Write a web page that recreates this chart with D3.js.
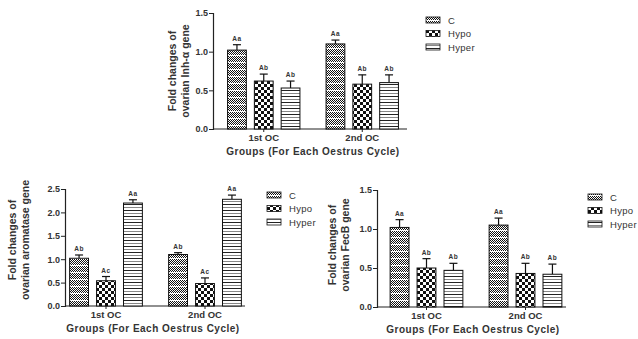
<!DOCTYPE html>
<html><head><meta charset="utf-8">
<script src="https://cdn.jsdelivr.net/npm/d3@7"></script>
<style>body{margin:0;background:#fff;} svg{display:block;font-family:"Liberation Sans",Arial,sans-serif;}</style>
</head><body>
<script>
const groups = ["1st OC", "2nd OC"];
const seriesNames = ["C", "Hypo", "Hyper"];
const yTicksInh = [0, 0.5, 1.0, 1.5];
const yTicksAro = [0, 0.5, 1.0, 1.5, 2.0, 2.5];
const yTicksFec = [0, 0.5, 1.0, 1.5];
// values [group][series]
const inhMean = [[1.02, 0.62, 0.53], [1.10, 0.58, 0.60]];
const inhErr  = [[0.07, 0.09, 0.09], [0.05, 0.12, 0.10]];
const inhSig  = [["Aa", "Ab", "Ab"], ["Aa", "Ab", "Ab"]];
const aroMean = [[1.02, 0.54, 2.20], [1.10, 0.48, 2.28]];
const aroErr  = [[0.07, 0.09, 0.07], [0.04, 0.12, 0.09]];
const aroSig  = [["Ab", "Ac", "Aa"], ["Ab", "Ac", "Aa"]];
const fecMean = [[1.02, 0.50, 0.47], [1.05, 0.43, 0.42]];
const fecErr  = [[0.10, 0.12, 0.09], [0.09, 0.13, 0.13]];
const fecSig  = [["Aa", "Ab", "Ab"], ["Aa", "Ab", "Ab"]];

const svg = d3.select("body").append("svg").attr("width", 638).attr("height", 339);
const defs = svg.append("defs");
let p = defs.append("pattern").attr("id","pC").attr("patternUnits","userSpaceOnUse").attr("width",4).attr("height",7);
p.append("rect").attr("width",4).attr("height",7).attr("fill","#fff");
for (let r=0;r<6;r++) for (let c=0;c<4;c++) if ((r+c)%2===0) p.append("rect").attr("x",c).attr("y",r).attr("width",1).attr("height",1).attr("fill","#111");
p = defs.append("pattern").attr("id","pHypo").attr("patternUnits","userSpaceOnUse").attr("width",6).attr("height",6);
p.append("rect").attr("width",6).attr("height",6).attr("fill","#fff");
p.append("rect").attr("width",3).attr("height",3).attr("fill","#111");
p.append("rect").attr("x",3).attr("y",3).attr("width",3).attr("height",3).attr("fill","#111");
p = defs.append("pattern").attr("id","pHyper").attr("patternUnits","userSpaceOnUse").attr("width",4).attr("height",6);
p.append("rect").attr("width",4).attr("height",6).attr("fill","#fff");
p.append("rect").attr("y",0).attr("width",4).attr("height",1).attr("fill","#222");
p.append("rect").attr("y",3).attr("width",4).attr("height",1).attr("fill","#888");
const fills = ["url(#pC)", "url(#pHypo)", "url(#pHyper)"];

function panel(cfg) {
  const g = svg.append("g");
  const y = d3.scaleLinear().domain([0, cfg.ymax]).range([cfg.y0, cfg.y1]);
  const xg = d3.scaleBand().domain(groups).range([cfg.c1 - 49.5, cfg.c2 + 49.5]).paddingInner(0.2).paddingOuter(0.1);
  const xs = d3.scaleBand().domain(seriesNames).range([0, xg.bandwidth()]).paddingInner(0.3).paddingOuter(0.12);
  const ya = g.append("g").attr("transform", `translate(${cfg.ax},0)`)
    .call(d3.axisLeft(y).tickValues(cfg.ticks).tickFormat(d3.format(".1f")).tickSizeOuter(0).tickSize(4));
  ya.select(".domain").attr("stroke","#222").attr("stroke-width",1.2);
  ya.selectAll(".tick line").attr("stroke","#222");
  ya.selectAll("text").attr("font-size",9).attr("font-weight","bold").attr("fill","#333").attr("x",-5);
  const xa = g.append("g").attr("transform", `translate(0,${cfg.y0})`);
  xa.append("line").attr("x1",cfg.ax).attr("x2",cfg.axEnd).attr("stroke","#222").attr("stroke-width",1.2);
  groups.forEach(gr => {
    const cx = xg(gr) + xg.bandwidth()/2;
    xa.append("line").attr("x1",cx).attr("x2",cx).attr("y1",0).attr("y2",3).attr("stroke","#222");
    xa.append("text").attr("x",cx).attr("y",12).attr("text-anchor","middle").attr("font-size",9.5).attr("font-weight","bold").attr("fill","#333").text(gr);
  });
  g.append("text").attr("x",cfg.titleX).attr("y",cfg.y0+26).attr("text-anchor","middle").attr("font-size",10).attr("font-weight","bold").attr("letter-spacing",0.5).attr("fill","#333").text("Groups (For Each Oestrus Cycle)");
  const yt = g.append("text").attr("transform",`translate(${cfg.ytX},${cfg.ytY}) rotate(-90)`).attr("text-anchor","middle").attr("font-size",10.5).attr("font-weight","bold").attr("fill","#333");
  yt.append("tspan").attr("x",0).attr("dy",0).text("Fold changes of");
  yt.append("tspan").attr("x",0).attr("dy",13).text(cfg.ylabel2);
  groups.forEach((gr, gi) => {
    seriesNames.forEach((s, si) => {
      const x0 = xg(gr) + xs(s), w = xs.bandwidth();
      const v = cfg.mean[gi][si], e = cfg.err[gi][si];
      const cx = x0 + w/2;
      g.append("line").attr("x1",cx).attr("x2",cx).attr("y1",y(v)).attr("y2",y(v+e)).attr("stroke","#111").attr("stroke-width",1.2);
      g.append("line").attr("x1",cx-4).attr("x2",cx+4).attr("y1",y(v+e)).attr("y2",y(v+e)).attr("stroke","#111").attr("stroke-width",1.2);
      g.append("rect").attr("x",x0).attr("y",y(v)).attr("width",w).attr("height",y(0)-y(v)).attr("fill",fills[si]).attr("stroke","#111").attr("stroke-width",1);
      g.append("text").attr("x",cx).attr("y",y(v+e)-4).attr("text-anchor","middle").attr("font-size",6.5).attr("font-weight","bold").attr("letter-spacing",0.5).attr("fill","#333").text(cfg.sig[gi][si]);
    });
  });
  seriesNames.forEach((s, si) => {
    const ly = cfg.legY + si*13.5;
    g.append("rect").attr("x",cfg.legX).attr("y",ly-3).attr("width",14).attr("height",6).attr("fill",fills[si]).attr("stroke","#111").attr("stroke-width",0.8);
    g.append("text").attr("x",cfg.legX+22).attr("y",ly+3.5).attr("font-size",9.5).attr("letter-spacing",0.3).attr("fill","#333").text(s);
  });
}

panel({ax:213, axEnd:407, y0:129, y1:13, ymax:1.5, ticks:yTicksInh, c1:264, c2:362, titleX:313, ytX:176, ytY:71, ylabel2:"ovarian Inh-\u03b1 gene", mean:inhMean, err:inhErr, sig:inhSig, legX:426, legY:20});
panel({ax:65, axEnd:245, y0:306, y1:189, ymax:2.5, ticks:yTicksAro, c1:106, c2:205, titleX:153, ytX:16, ytY:240, ylabel2:"ovarian aromatase gene", mean:aroMean, err:aroErr, sig:aroSig, legX:267, legY:195});
panel({ax:377, axEnd:566, y0:307, y1:190, ymax:1.5, ticks:yTicksFec, c1:426.5, c2:525.5, titleX:473, ytX:336, ytY:245, ylabel2:"ovarian FecB gene", mean:fecMean, err:fecErr, sig:fecSig, legX:588, legY:197});
</script>
</body></html>
